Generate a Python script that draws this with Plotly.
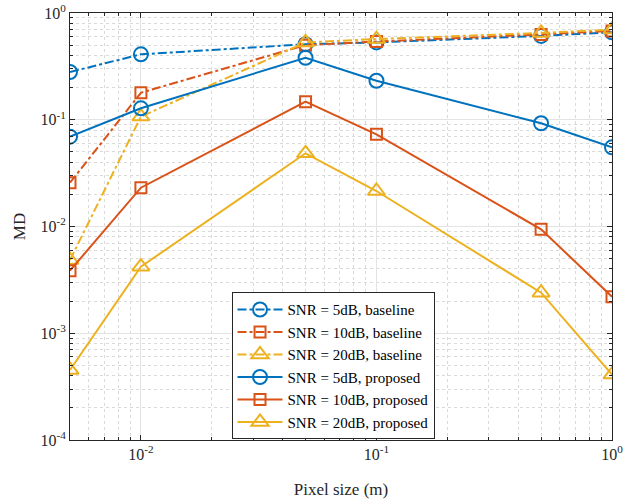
import plotly.graph_objects as go

pixel_size = [0.005, 0.01, 0.05, 0.1, 0.5, 1.0]

base_5 = [0.28, 0.41, 0.51, 0.53, 0.61, 0.66]
base_10 = [0.0257, 0.179, 0.50, 0.54, 0.63, 0.68]
base_20 = [0.00485, 0.107, 0.53, 0.57, 0.65, 0.70]
prop_5 = [0.0694, 0.128, 0.381, 0.232, 0.0927, 0.0552]
prop_10 = [0.00386, 0.0231, 0.1476, 0.073, 0.0094, 0.0022]
prop_20 = [0.000453, 0.0042, 0.0485, 0.0215, 0.0024, 0.00041]

names = ["SNR = 5dB, baseline", "SNR = 10dB, baseline", "SNR = 20dB, baseline",
         "SNR = 5dB, proposed", "SNR = 10dB, proposed", "SNR = 20dB, proposed"]
series = [base_5, base_10, base_20, prop_5, prop_10, prop_20]
colors = ["#0072BD", "#D95319", "#EDB120"] * 2
symbols = ["circle-open", "square-open", "triangle-up-open"] * 2
sizes = [14, 11, 15] * 2
dashes = ["dashdot"] * 3 + ["solid"] * 3

x_tickvals = [0.01, 0.1, 1]
x_ticktext = ["10<sup>-2</sup>", "10<sup>-1</sup>", "10<sup>0</sup>"]
y_tickvals = [1e-4, 1e-3, 1e-2, 1e-1, 1]
y_ticktext = ["10<sup>-4</sup>", "10<sup>-3</sup>", "10<sup>-2</sup>", "10<sup>-1</sup>", "10<sup>0</sup>"]

fig = go.Figure()
for name, ys, c, s, sz, d in zip(names, series, colors, symbols, sizes, dashes):
    fig.add_trace(go.Scatter(
        x=pixel_size, y=ys, name=name, mode="lines+markers",
        line=dict(color=c, width=2, dash=d),
        marker=dict(symbol=s, size=sz, color=c, line=dict(color=c, width=2)),
    ))

font = "Liberation Serif"
axis_common = dict(
    type="log", showline=True, linecolor="#262626", linewidth=1, mirror="ticks",
    ticks="inside", ticklen=5, tickcolor="#262626",
    showgrid=True, gridcolor="#e3e3e3", gridwidth=1,
    zeroline=False, automargin=False,
    tickfont=dict(family=font, size=16, color="#262626"),
    minor=dict(dtick="D1", ticks="inside", ticklen=3, tickcolor="#262626",
               showgrid=True, gridcolor="#dadada", griddash="dot", gridwidth=1),
)

fig.update_layout(
    width=625, height=504,
    margin=dict(l=70, r=13, t=13, b=64),
    paper_bgcolor="white", plot_bgcolor="white",
    font=dict(family=font, color="#262626"),
    showlegend=True,
    legend=dict(
        x=0.298, y=0.346, xanchor="left", yanchor="top",
        bgcolor="white", bordercolor="#262626", borderwidth=1,
        font=dict(family=font, size=15, color="#000000"),
        tracegroupgap=0, itemwidth=45,
    ),
)
fig.update_xaxes(**axis_common, range=[-2.30103, 0], tickvals=x_tickvals, ticktext=x_ticktext,
                 title=dict(text="Pixel size (m)", font=dict(family=font, size=17), standoff=20))
fig.update_yaxes(**axis_common, range=[-4, 0], tickvals=y_tickvals, ticktext=y_ticktext,
                 title=dict(text="MD", font=dict(family=font, size=17), standoff=10))

fig.write_html("out.html")
